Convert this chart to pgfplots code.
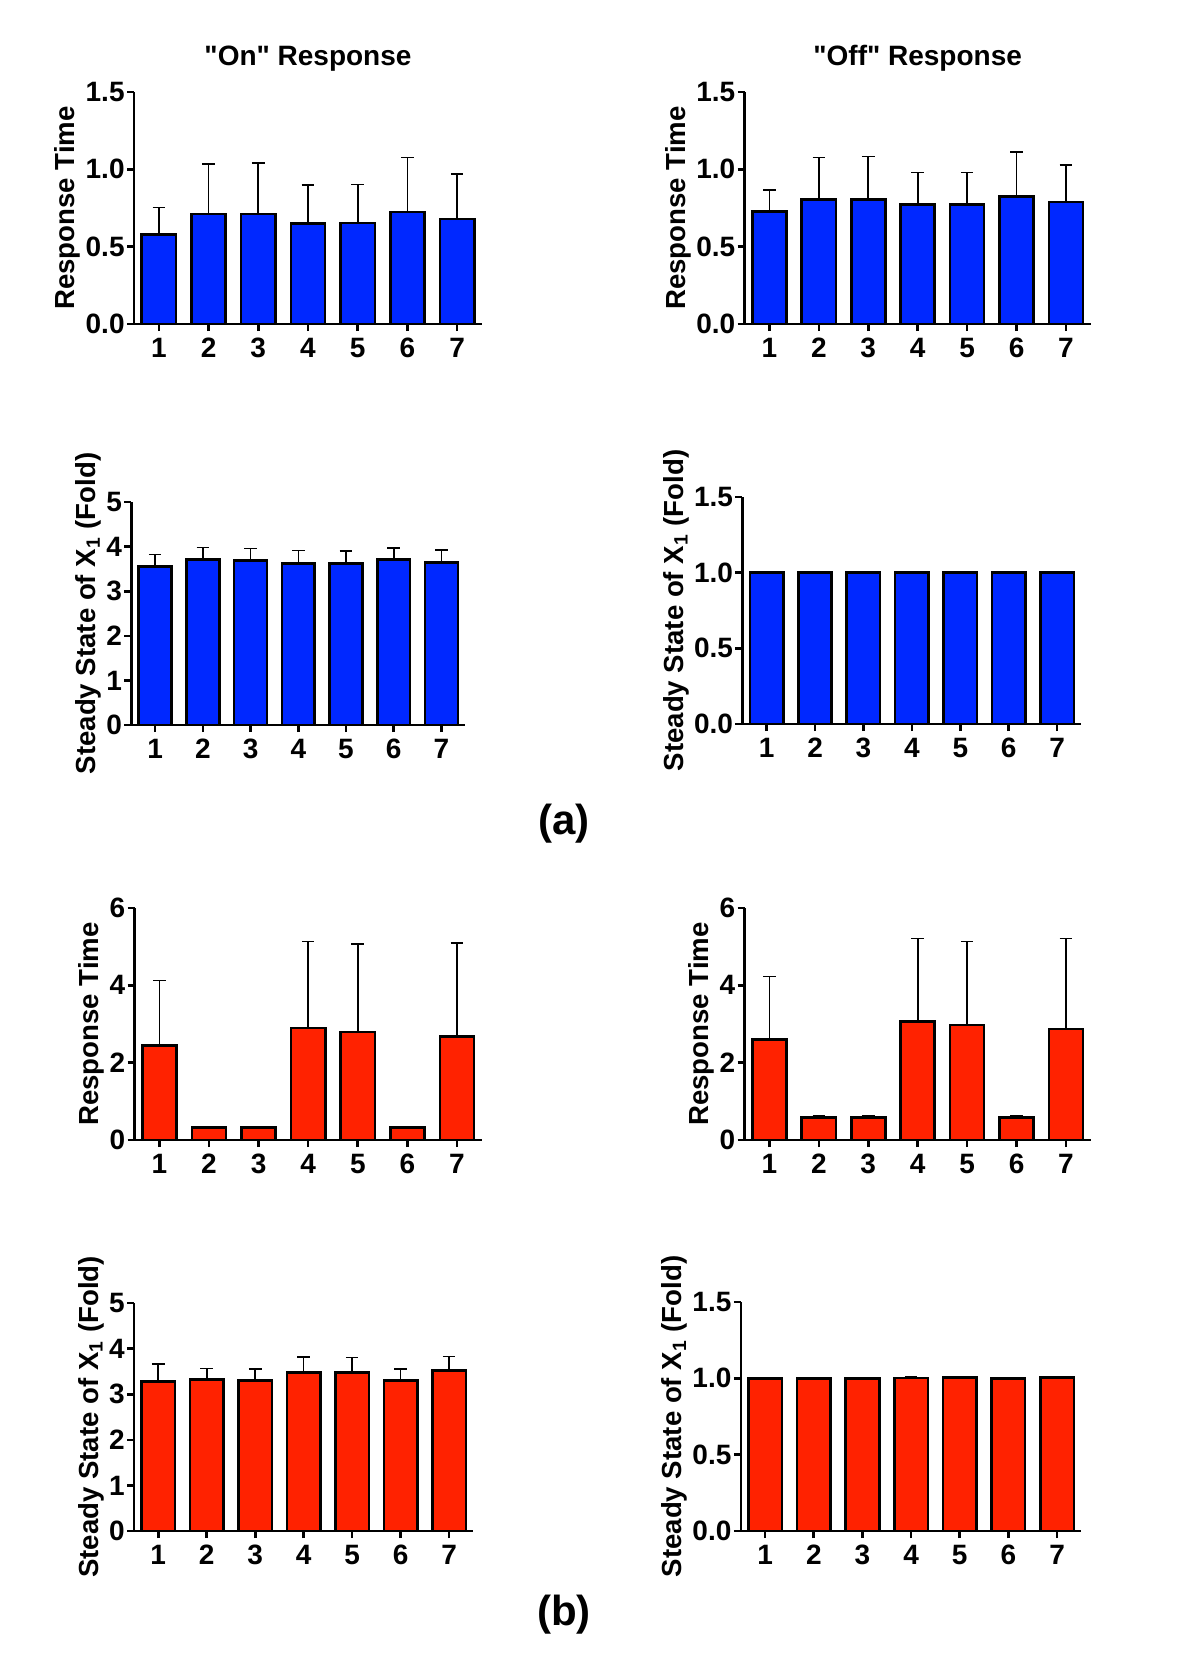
\documentclass[border=0pt]{standalone}
\usepackage{pgfplots}
\pgfplotsset{compat=1.18}
\usepackage{pgfplotstable}
\usepackage{fontspec}
\setmainfont{Liberation Sans}[Ligatures=TeXOff]
\definecolor{barblue}{RGB}{0,40,255}
\definecolor{barred}{RGB}{255,34,0}

\pgfplotstableread{
x y e
1 0.578 0.174
2 0.711 0.323
3 0.711 0.329
4 0.651 0.249
5 0.653 0.250
6 0.724 0.353
7 0.679 0.290
}\onRTa
\pgfplotstableread{
x y e
1 0.726 0.140
2 0.806 0.271
3 0.806 0.277
4 0.774 0.206
5 0.774 0.206
6 0.823 0.290
7 0.789 0.238
}\offRTa
\pgfplotstableread{
x y e
1 3.552 0.269
2 3.709 0.269
3 3.687 0.268
4 3.627 0.283
5 3.627 0.269
6 3.709 0.261
7 3.642 0.283
}\onSSa
\pgfplotstableread{
x y e
1 1.000 0.000
2 1.000 0.000
3 1.000 0.000
4 1.000 0.000
5 1.000 0.000
6 1.000 0.000
7 1.000 0.000
}\offSSa
\pgfplotstableread{
x y e
1 2.444 1.678
2 0.318 0.025
3 0.318 0.025
4 2.892 2.237
5 2.797 2.272
6 0.318 0.025
7 2.676 2.419
}\onRTb
\pgfplotstableread{
x y e
1 2.599 1.635
2 0.585 0.052
3 0.585 0.052
4 3.064 2.143
5 2.978 2.160
6 0.585 0.052
7 2.874 2.333
}\offRTb
\pgfplotstableread{
x y e
1 3.285 0.372
2 3.321 0.241
3 3.307 0.248
4 3.474 0.336
5 3.482 0.321
6 3.307 0.248
7 3.526 0.299
}\onSSb
\pgfplotstableread{
x y e
1 0.998 0.003
2 0.999 0.003
3 1.000 0.003
4 1.003 0.004
5 1.004 0.004
6 0.999 0.003
7 1.007 0.005
}\offSSb

\pgfplotsset{
  panel/.style={
    scale only axis,
    anchor=south west,
    axis x line*=bottom, axis y line*=left,
    axis line style={line width=1.3pt},
    xmin=0.5, xmax=7.5, ymin=0,
    xtick={1,...,7},
    tick align=outside,
    major tick length=3.5pt,
    every tick/.style={line width=1.3pt, black},
    tick label style={font=\fontsize{14}{16}\selectfont\bfseries},
    yticklabel style={inner xsep=1pt},
    /pgf/number format/assume math mode=true,
    label style={font=\fontsize{13.8}{16}\selectfont\bfseries},
    ylabel shift=-2pt,
    title style={font=\fontsize{14}{16}\selectfont\bfseries, yshift=1pt},
    ybar, bar width=0.69,
  },
  dec/.style={ymax=1.5, ytick={0,0.5,1,1.5},
    yticklabel style={/pgf/number format/.cd, fixed, fixed zerofill, precision=1}},
  five/.style={ymax=5, ytick={0,1,2,3,4,5}},
  six/.style={ymax=6, ytick={0,2,4,6}},
  bars/.style={fill=#1, draw=black, line width=1.3pt,
    error bars/.cd, y dir=plus, y explicit,
    error bar style={line width=0.8pt, black},
    error mark options={rotate=90, mark size=3.15pt, line width=0.8pt, black}},
}

\begin{document}
\begin{tikzpicture}
\useasboundingbox (0,0) rectangle (600pt,-835.5pt);

\begin{axis}[panel, dec, at={(67pt,-162pt)}, width=174pt, height=116pt,
  title={"On" Response}, ylabel={Response Time}]
\addplot[bars=barblue] table[x=x, y=y, y error=e] {\onRTa};
\end{axis}

\begin{axis}[panel, dec, at={(372.35pt,-162pt)}, width=173pt, height=116pt,
  title={"Off" Response}, ylabel={Response Time}]
\addplot[bars=barblue] table[x=x, y=y, y error=e] {\offRTa};
\end{axis}

\begin{axis}[panel, five, at={(65.65pt,-362.5pt)}, width=167pt, height=111.5pt,
  ylabel={Steady State of X\textsubscript{1} (Fold)}]
\addplot[bars=barblue] table[x=x, y=y, y error=e] {\onSSa};
\end{axis}

\begin{axis}[panel, dec, at={(371.2pt,-362pt)}, width=169.5pt, height=113.5pt,
  ylabel={Steady State of X\textsubscript{1} (Fold)}]
\addplot[bars=barblue] table[x=x, y=y, y error=e] {\offSSa};
\end{axis}

\begin{axis}[panel, six, at={(67.3pt,-570pt)}, width=173.6pt, height=116pt,
  ylabel={Response Time}]
\addplot[bars=barred] table[x=x, y=y, y error=e] {\onRTb};
\end{axis}

\begin{axis}[panel, six, at={(372.35pt,-570pt)}, width=173pt, height=116pt,
  ylabel={Response Time}]
\addplot[bars=barred] table[x=x, y=y, y error=e] {\offRTb};
\end{axis}

\begin{axis}[panel, five, at={(67pt,-765.5pt)}, width=169.7pt, height=114pt,
  ylabel={Steady State of X\textsubscript{1} (Fold)}]
\addplot[bars=barred] table[x=x, y=y, y error=e] {\onSSb};
\end{axis}

\begin{axis}[panel, dec, at={(370.4pt,-765.5pt)}, width=170.3pt, height=114.5pt,
  ylabel={Steady State of X\textsubscript{1} (Fold)}]
\addplot[bars=barred] table[x=x, y=y, y error=e] {\offSSb};
\end{axis}

\node[font=\fontsize{21}{24}\selectfont\bfseries] at (282pt,-411.75pt) {(a)};
\node[font=\fontsize{21}{24}\selectfont\bfseries] at (282pt,-807.5pt) {(b)};
\end{tikzpicture}
\end{document}
